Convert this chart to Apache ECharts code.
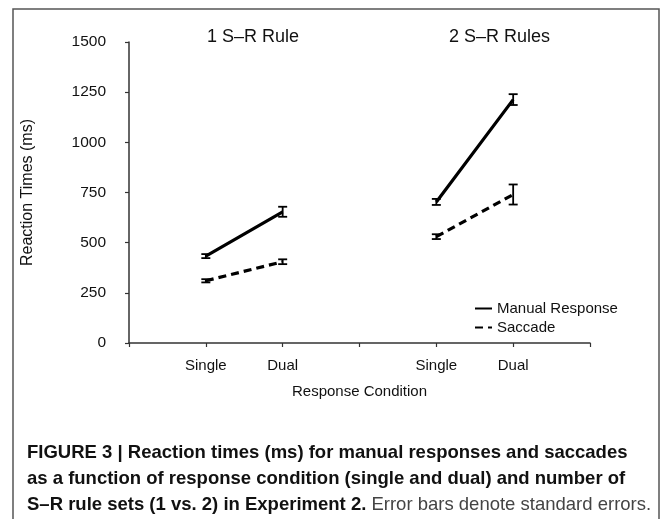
<!DOCTYPE html>
<html>
<head>
<meta charset="utf-8">
<script src="https://cdn.jsdelivr.net/npm/echarts@6/dist/echarts.min.js"></script>
<style>
  html, body { margin: 0; padding: 0; background: #fff; }
  #chart { width: 672px; height: 519px; }
</style>
</head>
<body>
<div id="chart"></div>
<script>
// x slots: blank, Single, Dual, blank, Single, Dual, blank
var categories = ['', 'Single', 'Dual', '', 'Single', 'Dual', ''];
var manualRT = [null, 433, 654, null, 703, 1213, null];
var manualSE = [null, 10, 25, null, 15, 27, null];
var saccadeRT = [null, 310, 405, null, 530, 740, null];
var saccadeSE = [null, 8, 12, null, 12, 50, null];
var yTicks = [0, 250, 500, 750, 1000, 1250, 1500];

var font = 'Liberation Sans, Arial, sans-serif';

function errData(vals, errs) {
  var out = [];
  vals.forEach(function (v, i) {
    if (v != null) out.push([i, v - errs[i], v + errs[i]]);
  });
  return out;
}

function errSeries(vals, errs) {
  return {
    type: 'custom',
    silent: true,
    z: 5,
    data: errData(vals, errs),
    renderItem: function (params, api) {
      var lo = api.coord([api.value(0), api.value(1)]);
      var hi = api.coord([api.value(0), api.value(2)]);
      var w = 4.5;
      var st = { stroke: '#000', lineWidth: 1.8 };
      return {
        type: 'group',
        children: [
          { type: 'line', shape: { x1: lo[0], y1: lo[1], x2: hi[0], y2: hi[1] }, style: st },
          { type: 'line', shape: { x1: lo[0] - w, y1: lo[1], x2: lo[0] + w, y2: lo[1] }, style: st },
          { type: 'line', shape: { x1: hi[0] - w, y1: hi[1], x2: hi[0] + w, y2: hi[1] }, style: st }
        ]
      };
    }
  };
}

var chart = echarts.init(document.getElementById('chart'));
chart.setOption({
  animation: false,
  backgroundColor: '#fff',
  textStyle: { fontFamily: font },
  grid: { left: 129, right: 82, top: 42, bottom: 176 },
  legend: {
    orient: 'vertical',
    left: 469,
    top: 296,
    itemWidth: 17,
    itemHeight: 10,
    itemGap: 4,
    itemStyle: { opacity: 0 },
    data: ['Manual Response', 'Saccade'],
    textStyle: { fontFamily: font, fontSize: 15, color: '#111' }
  },
  xAxis: {
    type: 'category',
    data: categories,
    boundaryGap: false,
    axisLine: { lineStyle: { color: '#333', width: 1.5 } },
    axisTick: { show: true, length: 4, interval: 0, lineStyle: { color: '#333', width: 1.2 } },
    axisLabel: { interval: 0, color: '#111', fontSize: 15, margin: 15 },
    name: 'Response Condition',
    nameLocation: 'middle',
    nameGap: 41,
    nameTextStyle: { fontSize: 15, color: '#111', fontFamily: font }
  },
  yAxis: {
    type: 'value',
    min: yTicks[0],
    max: yTicks[yTicks.length - 1],
    interval: 250,
    splitLine: { show: false },
    axisLine: { show: true, lineStyle: { color: '#333', width: 1.5 } },
    axisTick: { show: true, length: 4, lineStyle: { color: '#333', width: 1.2 } },
    axisLabel: { color: '#111', fontSize: 15.5, margin: 23, formatter: function (v) { return String(v); } },
    name: 'Reaction Times (ms)',
    nameLocation: 'middle',
    nameGap: 93,
    nameTextStyle: { fontSize: 16, color: '#111', fontFamily: font }
  },
  series: [
    {
      name: 'Manual Response',
      type: 'line',
      data: manualRT,
      symbol: 'none',
      connectNulls: false,
      lineStyle: { color: '#000', width: 3.2 },
      itemStyle: { color: '#000' }
    },
    {
      name: 'Saccade',
      type: 'line',
      data: saccadeRT,
      symbol: 'none',
      connectNulls: false,
      lineStyle: { color: '#000', width: 3.2, type: [8, 5] },
      itemStyle: { color: '#000' }
    },
    errSeries(manualRT, manualSE),
    errSeries(saccadeRT, saccadeSE)
  ],
  graphic: [
    { type: 'rect', shape: { x: 13, y: 9, width: 646, height: 530 }, style: { fill: null, stroke: '#555', lineWidth: 1.5 }, silent: true },
    { type: 'text', left: 207, top: 28, style: { text: '1 S–R Rule', font: '18px ' + font, fill: '#111' } },
    { type: 'text', left: 449, top: 28, style: { text: '2 S–R Rules', font: '18px ' + font, fill: '#111' } },
    {
      type: 'text', left: 27, top: 440,
      style: {
        text: 'FIGURE 3 | Reaction times (ms) for manual responses and saccades\nas a function of response condition (single and dual) and number of\n{b|S–R rule sets (1 vs. 2) in Experiment 2.} {n|Error bars denote standard errors.}',
        font: 'bold 18.5px ' + font,
        fill: '#111',
        lineHeight: 26,
        rich: {
          b: { fontWeight: 'bold', fontSize: 18.5, fontFamily: font, fill: '#111', lineHeight: 26 },
          n: { fontWeight: 'normal', fontSize: 18.5, fontFamily: font, fill: '#444', lineHeight: 26 }
        }
      }
    }
  ]
});
</script>
</body>
</html>
